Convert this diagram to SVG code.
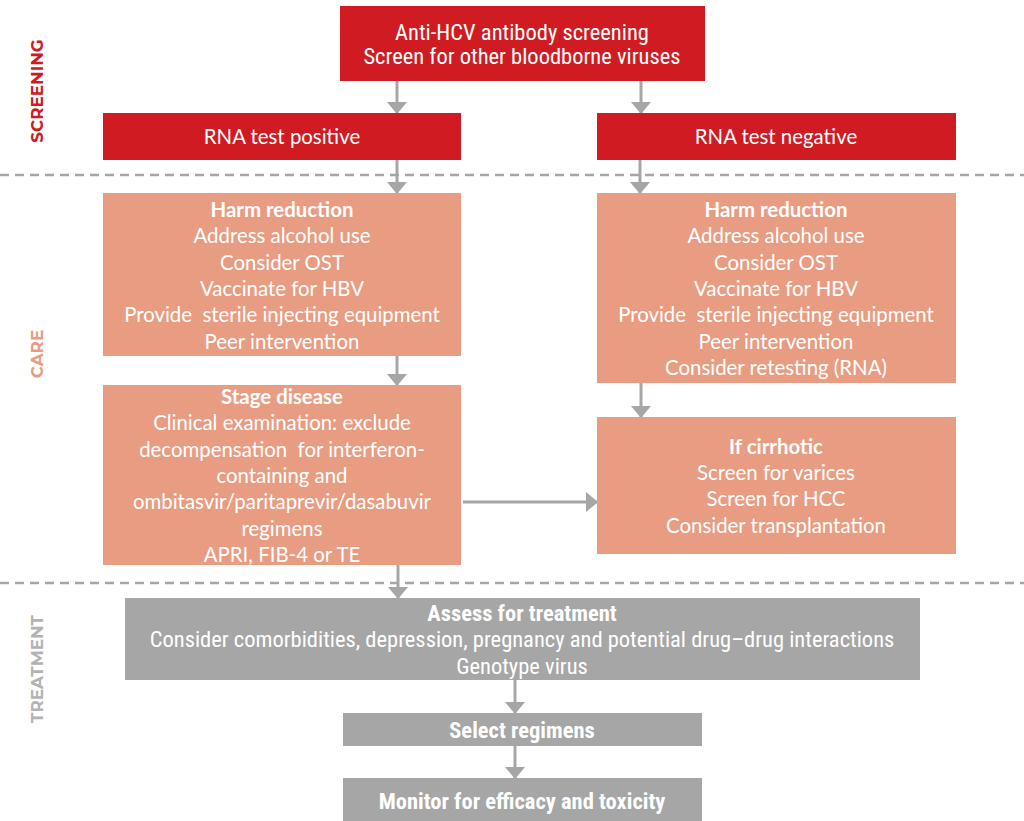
<svg xmlns="http://www.w3.org/2000/svg" width="1024" height="821" viewBox="0 0 1024 821">
<style>
.red{fill:#cf1b21}
.sal{fill:#e89d83}
.gry{fill:#a6a6a6}
.t{font-family:Lato,"Open Sans","Liberation Sans",sans-serif;font-size:20.4px;fill:#fff;text-anchor:middle}
.b{font-weight:bold}
.c{font-family:"Liberation Sans Narrow","Roboto Condensed","Liberation Sans",sans-serif;font-size:22.5px;fill:#fff;text-anchor:middle}
.sec{font-family:Montserrat,"DejaVu Sans","Liberation Sans",sans-serif;font-weight:bold;font-size:16.8px;text-anchor:middle}
.dash{stroke:#a6a6a6;stroke-width:2.5;stroke-dasharray:9 6}
.con{stroke:#a6a6a6;stroke-width:3;fill:none;marker-end:url(#ah)}
</style>
<defs>
<marker id="ah" markerUnits="userSpaceOnUse" markerWidth="12" markerHeight="20" refX="11" refY="10" orient="auto" viewBox="0 0 12 20">
<path d="M0,0 L12,10 L0,20 Z" fill="#a6a6a6"/>
</marker>
</defs>
<rect width="1024" height="821" fill="#fff"/>
<line class="dash" x1="0" y1="175" x2="1024" y2="175"/>
<line class="dash" x1="0" y1="583" x2="1024" y2="583"/>
<text class="sec" fill="#cf1b21" transform="translate(43,91) rotate(-90)">SCREENING</text>
<text class="sec" fill="#e89d83" transform="translate(43,354) rotate(-90)">CARE</text>
<text class="sec" fill="#b3b3b3" transform="translate(43,669) rotate(-90)">TREATMENT</text>
<g id="connectors">
<line class="con" x1="397" y1="81" x2="397" y2="113"/>
<line class="con" x1="641" y1="81" x2="641" y2="113"/>
<line class="con" x1="397" y1="160" x2="397" y2="193"/>
<line class="con" x1="640" y1="160" x2="640" y2="193"/>
<line class="con" x1="397" y1="356" x2="397" y2="385"/>
<line class="con" x1="641" y1="383" x2="641" y2="417"/>
<line class="con" x1="463" y1="502" x2="597" y2="502"/>
<line class="con" x1="398" y1="565" x2="398" y2="598"/>
<line class="con" x1="515" y1="680" x2="515" y2="713"/>
<line class="con" x1="515" y1="746" x2="515" y2="778"/>
</g>
<g id="antibody">
<rect class="red" x="340" y="6" width="365" height="75"/>
<text class="c" x="522" y="40">Anti-HCV antibody screening</text>
<text class="c" x="522" y="64">Screen for other bloodborne viruses</text>
</g>
<g id="rna-pos">
<rect class="red" x="103" y="113" width="358" height="47"/>
<text class="t" x="282" y="144">RNA test positive</text>
</g>
<g id="rna-neg">
<rect class="red" x="597" y="113" width="359" height="47"/>
<text class="t" x="776" y="144">RNA test negative</text>
</g>
<g id="harm-left">
<rect class="sal" x="103" y="193" width="358" height="163"/>
<text class="t b" x="282" y="217">Harm reduction</text>
<text class="t" x="282" y="243">Address alcohol use</text>
<text class="t" x="282" y="270">Consider OST</text>
<text class="t" x="282" y="296">Vaccinate for HBV</text>
<text class="t" x="282" y="322" xml:space="preserve">Provide  sterile injecting equipment</text>
<text class="t" x="282" y="349">Peer intervention</text>
</g>
<g id="harm-right">
<rect class="sal" x="597" y="193" width="359" height="190"/>
<text class="t b" x="776" y="217">Harm reduction</text>
<text class="t" x="776" y="243">Address alcohol use</text>
<text class="t" x="776" y="270">Consider OST</text>
<text class="t" x="776" y="296">Vaccinate for HBV</text>
<text class="t" x="776" y="322" xml:space="preserve">Provide  sterile injecting equipment</text>
<text class="t" x="776" y="349">Peer intervention</text>
<text class="t" x="776" y="375">Consider retesting (RNA)</text>
</g>
<g id="stage">
<rect class="sal" x="103" y="385" width="358" height="180"/>
<text class="t b" x="282" y="404">Stage disease</text>
<text class="t" x="282" y="430">Clinical examination: exclude</text>
<text class="t" x="282" y="457" xml:space="preserve">decompensation  for interferon-</text>
<text class="t" x="282" y="483">containing and</text>
<text class="t" x="282" y="509">ombitasvir/paritaprevir/dasabuvir</text>
<text class="t" x="282" y="536">regimens</text>
<text class="t" x="282" y="562">APRI, FIB-4 or TE</text>
</g>
<g id="cirrhotic">
<rect class="sal" x="597" y="417" width="359" height="137"/>
<text class="t b" x="776" y="454">If cirrhotic</text>
<text class="t" x="776" y="480">Screen for varices</text>
<text class="t" x="776" y="506">Screen for HCC</text>
<text class="t" x="776" y="533">Consider transplantation</text>
</g>
<g id="assess">
<rect class="gry" x="125" y="598" width="795" height="82"/>
<text class="c b" x="522" y="621">Assess for treatment</text>
<text class="c" x="522" y="647">Consider comorbidities, depression, pregnancy and potential drug–drug interactions</text>
<text class="c" x="522" y="674">Genotype virus</text>
</g>
<g id="select">
<rect class="gry" x="343" y="713" width="359" height="33"/>
<text class="c b" x="522" y="738">Select regimens</text>
</g>
<g id="monitor">
<rect class="gry" x="343" y="778" width="359" height="50"/>
<text class="c b" x="522" y="809">Monitor for efficacy and toxicity</text>
</g>
</svg>
